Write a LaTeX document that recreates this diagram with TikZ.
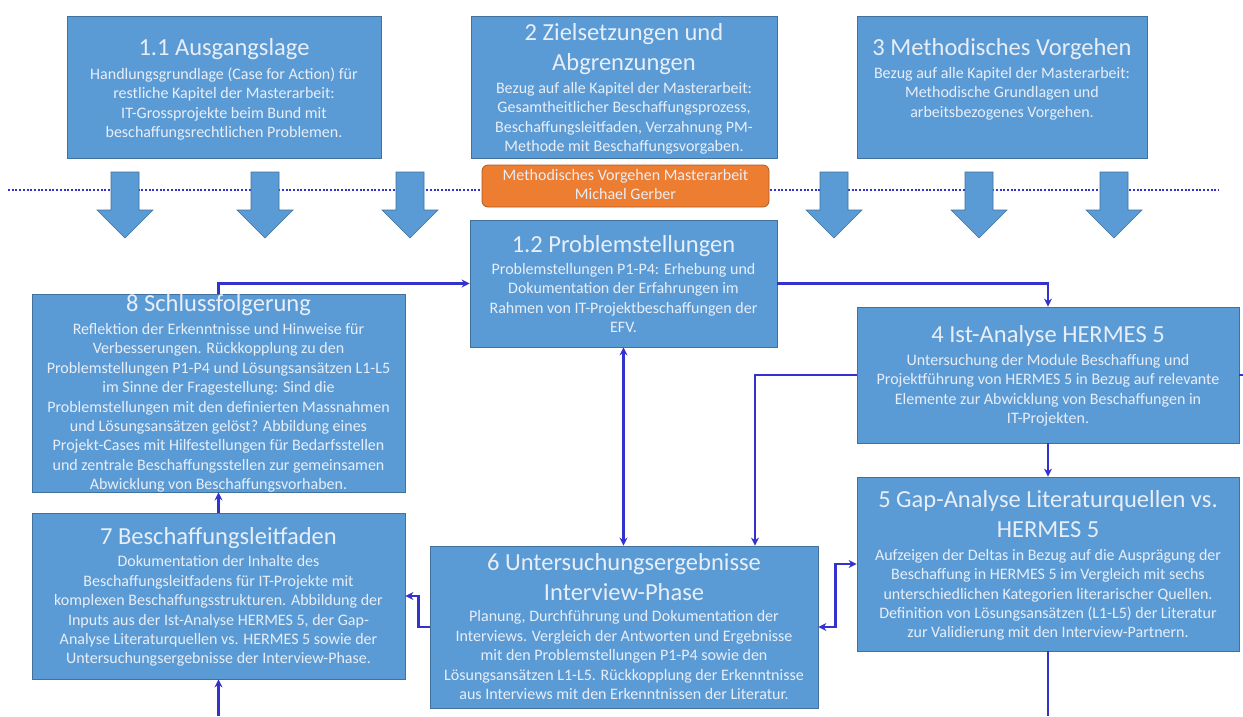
\documentclass[tikz,border=0pt]{standalone}
\usepackage{fontspec}
\setmainfont{Carlito}
\usetikzlibrary{arrows.meta,calc}
\definecolor{boxfill}{RGB}{91,155,213}
\definecolor{boxline}{RGB}{65,113,156}
\definecolor{orfill}{RGB}{237,125,49}
\definecolor{orline}{RGB}{174,90,33}
\definecolor{connc}{RGB}{51,51,204}
\definecolor{txt}{RGB}{232,238,248}
\tikzset{
  blockarrow/.pic={\path[draw=boxline, line width=0.6pt, fill=boxfill]
    (-14,0) -- (14,0) -- (14,38) -- (28,38) -- (0,66) -- (-28,38) -- (-14,38) -- cycle;}
}
\begin{document}
\begin{tikzpicture}[x=1pt,y=-1pt,
  box/.style={draw=boxline, line width=0.8pt, fill=boxfill, inner sep=0pt},
  orbox/.style={draw=orline, line width=0.8pt, fill=orfill, rounded corners=6pt, inner sep=0pt},
  ttl/.style={anchor=north, align=center, text=txt, inner sep=0pt, font=\fontsize{24.5}{30}\selectfont},
  bdy/.style={anchor=north, align=center, text=txt, inner sep=0pt, font=\fontsize{16}{19.4}\selectfont},
  link/.style={draw=connc, line width=2.5pt, -{Stealth[length=8pt,width=8pt]}},
  dbl/.style={draw=connc, line width=2.5pt, {Stealth[length=8pt,width=8pt]}-{Stealth[length=8pt,width=8pt]}},
  plain/.style={draw=connc, line width=2.5pt},
  dotline/.style={draw=connc, line width=2.4pt, dash pattern=on 2pt off 1.7pt}
]
\useasboundingbox (0,0) rectangle (1243,716);
\fill[white] (0,0) rectangle (1243,716);

% dotted separator
\coordinate (dl) at (8,190);
\coordinate (dr) at (1218,190);
\draw[dotline] (dl) -- (dr);

% block arrows
\pic at (125,172) {blockarrow};
\pic at (265,172) {blockarrow};
\pic at (410,172) {blockarrow};
\pic at (834,172) {blockarrow};
\pic at (979,172) {blockarrow};
\pic at (1114,172) {blockarrow};

% boxes
\node[box, minimum width=314pt, minimum height=142pt] (b11) at (224,87) {};
\node[box, minimum width=306pt, minimum height=142pt] (b2) at (624,87) {};
\node[box, minimum width=290pt, minimum height=142pt] (b3) at (1002,87) {};
\node[orbox, minimum width=287pt, minimum height=42pt] (or) at (625.5,186) {};
\node[box, minimum width=307pt, minimum height=127pt] (b12) at (623.5,283.5) {};
\node[box, minimum width=373pt, minimum height=198pt] (b8) at (218.5,393) {};
\node[box, minimum width=382pt, minimum height=136pt] (b4) at (1048,375) {};
\node[box, minimum width=382pt, minimum height=174pt] (b5) at (1048,564) {};
\node[box, minimum width=373pt, minimum height=166pt] (b7) at (218.5,596) {};
\node[box, minimum width=388pt, minimum height=162pt] (b6) at (624,627) {};

% free ends
\coordinate (b7bot) at (218.5,716);
\coordinate (b5bot) at (1048,716);
\coordinate (edgeR) at (1243,375);

% connectors
\draw[link] (b8.north) |- (b12.west);
\draw[link] (b12.east) -| (b4.north);
\draw[dbl] (b12.south) -- (b12.south |- b6.north);
\draw[link] (b4.west) -| ([xshift=131pt]b6.north);
\draw[plain] (b4.east) -- (edgeR);
\draw[link] (b4.south) -- (b5.north);
\draw[plain] (b5.south) -- (b5bot);
\draw[dbl] (b6.east) -- ++(17,0) |- (b5.west);
\draw[link] (b6.west) -- ++(-11,0) |- (b7.east);
\draw[link] (b7.north) -- (b8.south);
\draw[link] (b7bot) -- (b7.south);

% texts
\node[ttl] (t11) at (224,35) {\rule{0pt}{20pt}1.1 Ausgangslage};
\node[bdy] (x11) at (224,65) {\rule{0pt}{14pt}Handlungsgrundlage (Case for Action) für\\restliche Kapitel der Masterarbeit:\\IT-Grossprojekte beim Bund mit\\beschaffungsrechtlichen Problemen.};

\node[ttl] (t2) at (624,20) {\rule{0pt}{20pt}2 Zielsetzungen und\\Abgrenzungen};
\node[bdy] (x2) at (624,79) {\rule{0pt}{14pt}Bezug auf alle Kapitel der Masterarbeit:\\Gesamtheitlicher Beschaffungsprozess,\\Beschaffungsleitfaden, Verzahnung PM-\\Methode mit Beschaffungsvorgaben.};

\node[ttl] (t3) at (1002,35) {\rule{0pt}{20pt}3 Methodisches Vorgehen};
\node[bdy] (x3) at (1002,64) {\rule{0pt}{14pt}Bezug auf alle Kapitel der Masterarbeit:\\Methodische Grundlagen und\\arbeitsbezogenes Vorgehen.};

\node[bdy] (xor) at (625.5,166) {\rule{0pt}{14pt}Methodisches Vorgehen Masterarbeit\\Michael Gerber};

\node[ttl] (t12) at (623.5,232) {\rule{0pt}{20pt}1.2 Problemstellungen};
\node[bdy] (x12) at (623.5,260.3) {\rule{0pt}{14pt}Problemstellungen P1-P4: Erhebung und\\Dokumentation der Erfahrungen im\\Rahmen von IT-Projektbeschaffungen der\\EFV.};

\node[ttl] (t8) at (218.5,291.7) {\rule{0pt}{20pt}8 Schlussfolgerung};
\node[bdy] (x8) at (218.5,320.3) {\rule{0pt}{14pt}Reflektion der Erkenntnisse und Hinweise für\\Verbesserungen. Rückkopplung zu den\\Problemstellungen P1-P4 und Lösungsansätzen L1-L5\\im Sinne der Fragestellung: Sind die\\Problemstellungen mit den definierten Massnahmen\\und Lösungsansätzen gelöst? Abbildung eines\\Projekt-Cases mit Hilfestellungen für Bedarfsstellen\\und zentrale Beschaffungsstellen zur gemeinsamen\\Abwicklung von Beschaffungsvorhaben.};

\node[ttl] (t4) at (1048,322.3) {\rule{0pt}{20pt}4 Ist-Analyse HERMES 5};
\node[bdy] (x4) at (1048,351) {\rule{0pt}{14pt}Untersuchung der Module Beschaffung und\\Projektführung von HERMES 5 in Bezug auf relevante\\Elemente zur Abwicklung von Beschaffungen in\\IT-Projekten.};

\node[ttl] (t5) at (1048,487.7) {\rule{0pt}{20pt}5 Gap-Analyse Literaturquellen vs.\\HERMES 5};
\node[bdy] (x5) at (1048,546) {\rule{0pt}{14pt}Aufzeigen der Deltas in Bezug auf die Ausprägung der\\Beschaffung in HERMES 5 im Vergleich mit sechs\\unterschiedlichen Kategorien literarischer Quellen.\\Definition von Lösungsansätzen (L1-L5) der Literatur\\zur Validierung mit den Interview-Partnern.};

\node[ttl] (t7) at (218.5,524.3) {\rule{0pt}{20pt}7 Beschaffungsleitfaden};
\node[bdy] (x7) at (218.5,552.7) {\rule{0pt}{14pt}Dokumentation der Inhalte des\\Beschaffungsleitfadens für IT-Projekte mit\\komplexen Beschaffungsstrukturen. Abbildung der\\Inputs aus der Ist-Analyse HERMES 5, der Gap-\\Analyse Literaturquellen vs. HERMES 5 sowie der\\Untersuchungsergebnisse der Interview-Phase.};

\node[ttl] (t6) at (624,550) {\rule{0pt}{20pt}6 Untersuchungsergebnisse\\Interview-Phase};
\node[bdy] (x6) at (624,607.7) {\rule{0pt}{14pt}Planung, Durchführung und Dokumentation der\\Interviews. Vergleich der Antworten und Ergebnisse\\mit den Problemstellungen P1-P4 sowie den\\Lösungsansätzen L1-L5. Rückkopplung der Erkenntnisse\\aus Interviews mit den Erkenntnissen der Literatur.};
\end{tikzpicture}
\end{document}
